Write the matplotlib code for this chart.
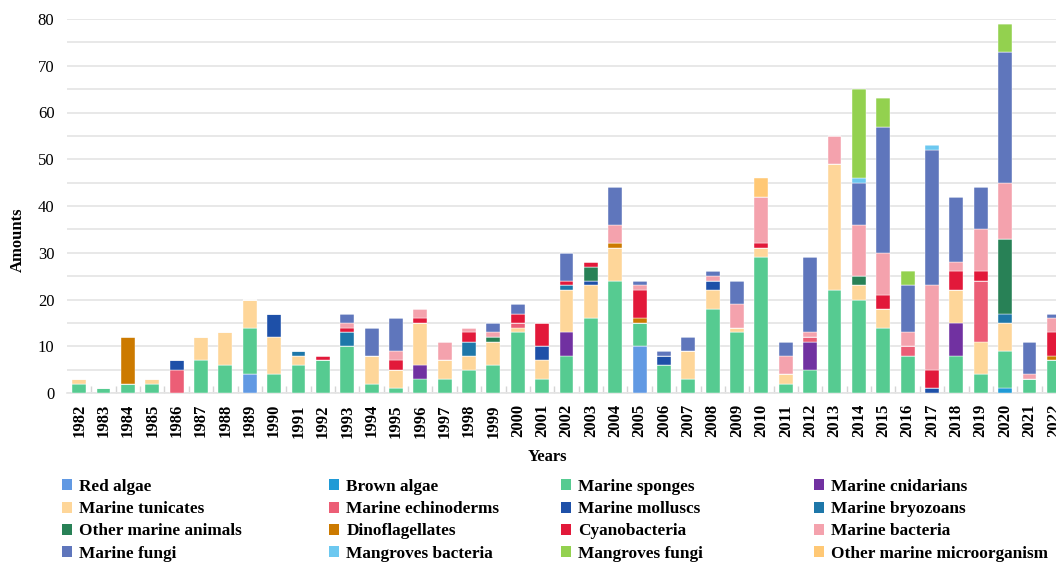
import matplotlib

matplotlib.use("Agg")
import matplotlib.pyplot as plt
import numpy as np
from matplotlib.patches import Patch

years = list(range(1982, 2023))

# one value per year, 1982..2022 (10 per line)
red_algae = [0, 0, 0, 0, 0, 0, 0, 4, 0, 0,
             0, 0, 0, 0, 0, 0, 0, 0, 0, 0,
             0, 0, 0, 10, 0, 0, 0, 0, 0, 0,
             0, 0, 0, 0, 0, 0, 0, 0, 0, 0,
             0]
brown_algae = [0, 0, 0, 0, 0, 0, 0, 0, 0, 0,
               0, 0, 0, 0, 0, 0, 0, 0, 0, 0,
               0, 0, 0, 0, 0, 0, 0, 0, 0, 0,
               0, 0, 0, 0, 0, 0, 0, 0, 1, 0,
               0]
marine_sponges = [2, 1, 2, 2, 0, 7, 6, 10, 4, 6,
                  7, 10, 2, 1, 3, 3, 5, 6, 13, 3,
                  8, 16, 24, 5, 6, 3, 18, 13, 29, 2,
                  5, 22, 20, 14, 8, 0, 8, 4, 8, 3,
                  7]
marine_cnidarians = [0, 0, 0, 0, 0, 0, 0, 0, 0, 0,
                     0, 0, 0, 0, 3, 0, 0, 0, 0, 0,
                     5, 0, 0, 0, 0, 0, 0, 0, 0, 0,
                     6, 0, 0, 0, 0, 0, 7, 0, 0, 0,
                     0]
marine_tunicates = [1, 0, 0, 1, 0, 5, 7, 6, 8, 2,
                    0, 0, 6, 4, 9, 4, 3, 5, 1, 4,
                    9, 7, 7, 0, 0, 6, 4, 1, 2, 2,
                    0, 27, 3, 4, 0, 0, 7, 7, 6, 0,
                    0]
marine_echinoderms = [0, 0, 0, 0, 5, 0, 0, 0, 0, 0,
                      0, 0, 0, 0, 0, 0, 0, 0, 1, 0,
                      0, 0, 0, 0, 0, 0, 0, 0, 0, 0,
                      1, 0, 0, 0, 2, 0, 0, 13, 0, 0,
                      0]
marine_molluscs = [0, 0, 0, 0, 2, 0, 0, 0, 5, 0,
                   0, 0, 0, 0, 0, 0, 0, 0, 0, 3,
                   0, 1, 0, 0, 2, 0, 2, 0, 0, 0,
                   0, 0, 0, 0, 0, 1, 0, 0, 0, 0,
                   0]
marine_bryozoans = [0, 0, 0, 0, 0, 0, 0, 0, 0, 1,
                    0, 3, 0, 0, 0, 0, 3, 0, 0, 0,
                    1, 0, 0, 0, 0, 0, 0, 0, 0, 0,
                    0, 0, 0, 0, 0, 0, 0, 0, 2, 0,
                    0]
other_marine_animals = [0, 0, 0, 0, 0, 0, 0, 0, 0, 0,
                        0, 0, 0, 0, 0, 0, 0, 1, 0, 0,
                        0, 3, 0, 0, 0, 0, 0, 0, 0, 0,
                        0, 0, 2, 0, 0, 0, 0, 0, 16, 0,
                        0]
dinoflagellates = [0, 0, 10, 0, 0, 0, 0, 0, 0, 0,
                   0, 0, 0, 0, 0, 0, 0, 0, 0, 0,
                   0, 0, 1, 1, 0, 0, 0, 0, 0, 0,
                   0, 0, 0, 0, 0, 0, 0, 0, 0, 0,
                   1]
cyanobacteria = [0, 0, 0, 0, 0, 0, 0, 0, 0, 0,
                 1, 1, 0, 2, 1, 0, 2, 0, 2, 5,
                 1, 1, 0, 6, 0, 0, 0, 0, 1, 0,
                 0, 0, 0, 3, 0, 4, 4, 2, 0, 0,
                 5]
marine_bacteria = [0, 0, 0, 0, 0, 0, 0, 0, 0, 0,
                   0, 1, 0, 2, 2, 4, 1, 1, 0, 0,
                   0, 0, 4, 1, 0, 0, 1, 5, 10, 4,
                   1, 6, 11, 9, 3, 18, 2, 9, 12, 1,
                   3]
marine_fungi = [0, 0, 0, 0, 0, 0, 0, 0, 0, 0,
                0, 2, 6, 7, 0, 0, 0, 2, 2, 0,
                6, 0, 8, 1, 1, 3, 1, 5, 0, 3,
                16, 0, 9, 27, 10, 29, 14, 9, 28, 7,
                1]
mangroves_bacteria = [0, 0, 0, 0, 0, 0, 0, 0, 0, 0,
                      0, 0, 0, 0, 0, 0, 0, 0, 0, 0,
                      0, 0, 0, 0, 0, 0, 0, 0, 0, 0,
                      0, 0, 1, 0, 0, 1, 0, 0, 0, 0,
                      0]
mangroves_fungi = [0, 0, 0, 0, 0, 0, 0, 0, 0, 0,
                   0, 0, 0, 0, 0, 0, 0, 0, 0, 0,
                   0, 0, 0, 0, 0, 0, 0, 0, 0, 0,
                   0, 0, 19, 6, 3, 0, 0, 0, 6, 0,
                   0]
other_marine_microorganism = [0, 0, 0, 0, 0, 0, 0, 0, 0, 0,
                              0, 0, 0, 0, 0, 0, 0, 0, 0, 0,
                              0, 0, 0, 0, 0, 0, 0, 0, 4, 0,
                              0, 0, 0, 0, 0, 0, 0, 0, 0, 0,
                              0]

series = [
    ("Red algae", red_algae, "#6199E3"),
    ("Brown algae", brown_algae, "#1F9AD6"),
    ("Marine sponges", marine_sponges, "#56CB91"),
    ("Marine cnidarians", marine_cnidarians, "#7131A1"),
    ("Marine tunicates", marine_tunicates, "#FED699"),
    ("Marine echinoderms", marine_echinoderms, "#EC5E76"),
    ("Marine molluscs", marine_molluscs, "#1E50A8"),
    ("Marine bryozoans", marine_bryozoans, "#1E77A9"),
    ("Other marine animals", other_marine_animals, "#288156"),
    ("Dinoflagellates", dinoflagellates, "#CC7A00"),
    ("Cyanobacteria", cyanobacteria, "#E2193A"),
    ("Marine bacteria", marine_bacteria, "#F4A2AD"),
    ("Marine fungi", marine_fungi, "#5F76BC"),
    ("Mangroves bacteria", mangroves_bacteria, "#6CC8F0"),
    ("Mangroves fungi", mangroves_fungi, "#93D14F"),
    ("Other marine microorganism", other_marine_microorganism, "#FFC875"),
]

SERIF = ["Liberation Serif", "DejaVu Serif"]
GRID = "#E4E4E4"

fig = plt.figure(figsize=(10.56, 5.62), dpi=100)
ax = fig.add_axes([67 / 1056, 169 / 562, 999 / 1056, 374 / 562])

x = np.arange(len(years))
bottom = np.zeros(len(years))
for name, values, color in series:
    vals = np.array(values, dtype=float)
    ax.bar(x, vals, width=0.57, bottom=bottom, color=color, label=name,
           edgecolor="white", linewidth=0.3, zorder=3)
    bottom += vals

ax.set_xlim(-0.5, len(years) - 0.5)
ax.set_ylim(0, 80)
ax.set_yticks(np.arange(0, 81, 10))
ax.set_yticks(np.arange(5, 80, 10), minor=True)
ax.grid(axis="y", which="both", color=GRID, linewidth=1.2, zorder=0)

ax.set_xticks(x)
ax.set_xticklabels([str(y) for y in years], rotation=90, fontfamily=SERIF,
                   fontweight="bold", fontsize=12)
ax.set_xticks(x[:-1] + 0.5, minor=True)
ax.tick_params(axis="x", which="major", length=0, pad=8)
ax.tick_params(axis="x", which="minor", direction="in", length=5,
               color="#D5D5D5", width=1)
ax.tick_params(axis="y", which="both", length=0, pad=9)
for lab in ax.get_yticklabels():
    lab.set_fontfamily(SERIF)
    lab.set_fontsize(12)

for side in ("top", "right", "left"):
    ax.spines[side].set_visible(False)
ax.spines["bottom"].set_color(GRID)
ax.spines["bottom"].set_linewidth(1.2)

fig.text(18 / 1056, 1 - 240 / 562, "Amounts", rotation=90, ha="center",
         va="center", fontfamily=SERIF, fontweight="bold", fontsize=12)
fig.text(547 / 1056, 1 - 457 / 562, "Years", ha="center", va="center",
         fontfamily=SERIF, fontweight="bold", fontsize=12)

# four single-column legends, read row by row like the original
col_x = [62, 329, 561, 814]
for j, cx in enumerate(col_x):
    picks = series[j::4]
    handles = [Patch(facecolor=c, edgecolor="none") for _, _, c in picks]
    labels = [n for n, _, _ in picks]
    fig.legend(handles, labels, loc="upper left",
               bbox_to_anchor=(cx / 1056, 1 - 479 / 562),
               frameon=False, borderpad=0, borderaxespad=0,
               handlelength=0.6, handleheight=0.6, handletextpad=0.4,
               labelspacing=0.36,
               prop={"family": SERIF, "weight": "bold", "size": 12.4})

fig.savefig("out.png", dpi=100)
